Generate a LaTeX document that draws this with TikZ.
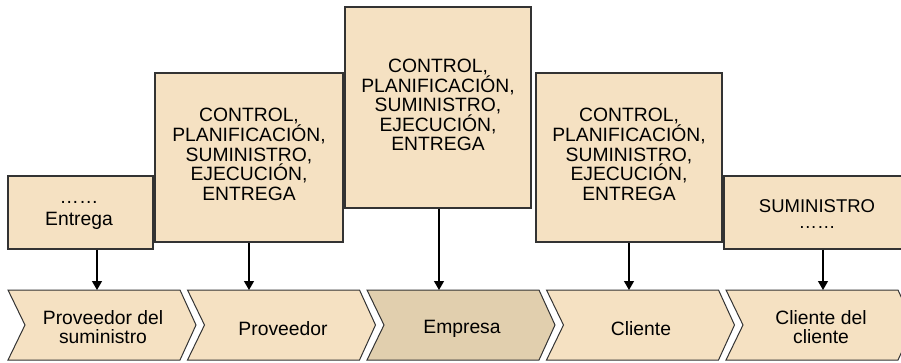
\documentclass[tikz,border=0pt]{standalone}
\usepackage{fontspec}
\setmainfont{Liberation Sans}
\usetikzlibrary{arrows.meta}
\definecolor{boxfill}{HTML}{F5E1C2}
\definecolor{darkfill}{HTML}{E1CFAE}
\definecolor{edge}{HTML}{333333}
\begin{document}
\begin{tikzpicture}[x=1pt,y=-1pt,
  box/.style={draw=edge,line width=1.3pt,fill=boxfill,inner sep=0pt},
  txt/.style={inner sep=0pt,align=center,font=\fontsize{19.3}{19.6}\selectfont,text=black},
  chev/.style={draw=edge,line width=1pt,fill=boxfill},
  arr/.style={draw=black,line width=1.2pt,-{Triangle[width=10pt,length=9pt]}}]
\path[use as bounding box] (0,0) rectangle (901,362);
\clip (0,0) rectangle (901,362);
% boxes
\node[box,minimum width=145pt,minimum height=73pt] (b1) at (80.5,212.5) {};
\node[box,minimum width=188pt,minimum height=169pt] (b2) at (249,157.5) {};
\node[box,minimum width=186pt,minimum height=201pt] (b3) at (438,107.5) {};
\node[box,minimum width=186pt,minimum height=169pt] (b4) at (629,157.5) {};
\node[box,minimum width=186pt,minimum height=73pt] (b5) at (817,212.5) {};
% box texts
\node[txt,font=\fontsize{19.3}{22}\selectfont] (t1) at (79,215) {……\\Entrega};
\node[txt] (t2) at (249,154.5) {CONTROL,\\PLANIFICACIÓN,\\SUMINISTRO,\\EJECUCIÓN,\\ENTREGA};
\node[txt] (t3) at (438,105) {CONTROL,\\PLANIFICACIÓN,\\SUMINISTRO,\\EJECUCIÓN,\\ENTREGA};
\node[txt] (t4) at (629,154.5) {CONTROL,\\PLANIFICACIÓN,\\SUMINISTRO,\\EJECUCIÓN,\\ENTREGA};
\node[txt,font=\fontsize{18.5}{16}\selectfont] (t5) at (817,214) {SUMINISTRO\\……};
% chevrons
\foreach \i/\col in {0/boxfill,1/boxfill,2/darkfill,3/boxfill,4/boxfill}{
  \pgfmathsetmacro{\L}{8+179.5*\i}
  \draw[chev,fill=\col] (\L,290) -- (\L+172,290) -- (\L+188,325) -- (\L+172,360)
     -- (\L,360) -- (\L+17,325) -- cycle;
}
\node[txt] (c1) at (103,327) {Proveedor del\\suministro};
\node[txt] (c2) at (283,328.5) {Proveedor};
\node[txt] (c3) at (462,329) {Empresa};
\node[txt] (c4) at (641,328.5) {Cliente};
\node[txt] (c5) at (821,327) {Cliente del\\cliente};
% arrow targets
\coordinate (a1) at (97,290);
\coordinate (a2) at (249,290);
\coordinate (a3) at (439,290);
\coordinate (a4) at (629,290);
\coordinate (a5) at (823,290);
\draw[arr] (b1.south -| a1) -- (a1);
\draw[arr] (b2.south -| a2) -- (a2);
\draw[arr] (b3.south -| a3) -- (a3);
\draw[arr] (b4.south -| a4) -- (a4);
\draw[arr] (b5.south -| a5) -- (a5);
\end{tikzpicture}
\end{document}
